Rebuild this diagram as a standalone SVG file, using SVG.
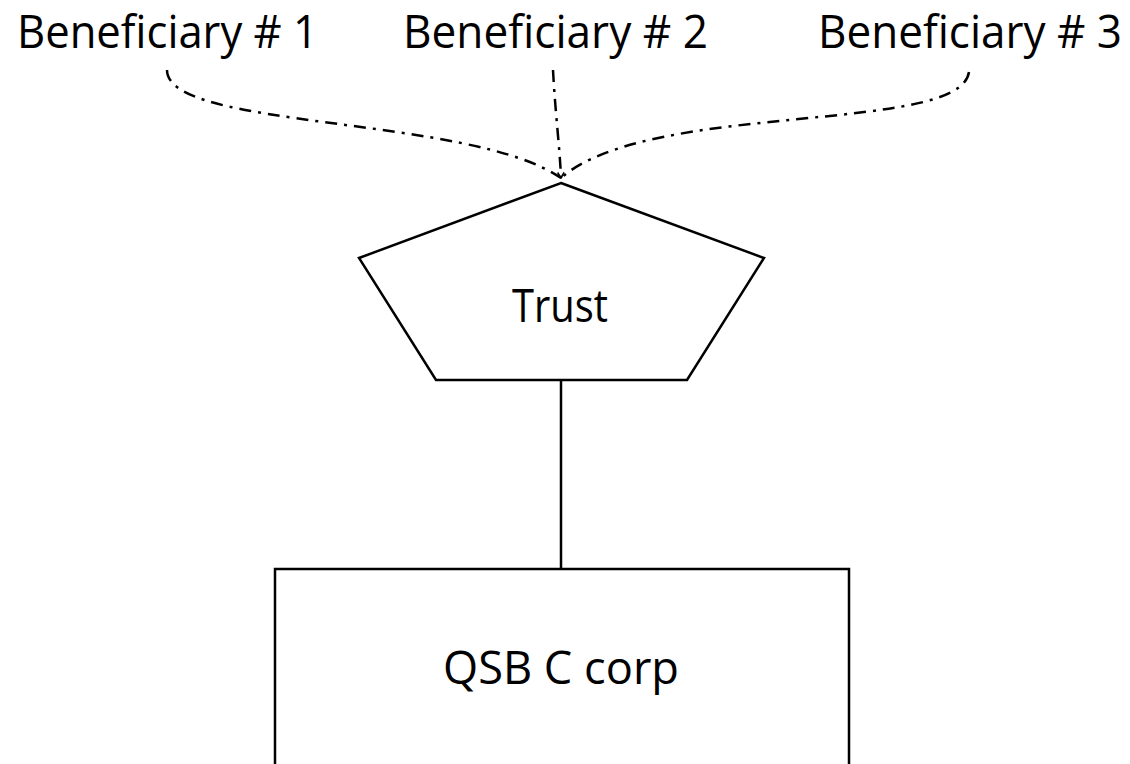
<svg xmlns="http://www.w3.org/2000/svg" width="1130" height="764" viewBox="0 0 1130 764">
  <style>
    .label { font-family: "Open Sans", "Noto Sans", "Liberation Sans", sans-serif; font-size: 45px; fill: #000; text-anchor: middle; }
    .shape { fill: #fff; stroke: #000; stroke-width: 2.5; }
    .link { fill: none; stroke: #000; stroke-width: 2.5; }
    .benefit { fill: none; stroke: #000; stroke-width: 2.5; stroke-dasharray: 12 7 3 7; }
  </style>
  <defs>
    <marker id="tip" viewBox="0 0 10 10" refX="9" refY="5" markerWidth="8" markerHeight="8" orient="auto" markerUnits="userSpaceOnUse">
      <path d="M2,1 L9,5 L2,9" fill="none" stroke="#000" stroke-width="2"/>
    </marker>
  </defs>
  <rect width="1130" height="764" fill="#fff"/>

  <!-- connectors -->
  <g id="connectors">
    <path class="benefit" d="M167,70 C167,130 470,115 561,178"/>
    <path class="benefit" d="M553,70 C555,110 560,150 561,178" marker-end="url(#tip)"/>
    <path class="benefit" d="M969,72 C960,135 650,100 561,178"/>
    <line class="link" x1="561" y1="380" x2="561" y2="569"/>
  </g>

  <!-- beneficiaries -->
  <g id="beneficiary-1"><text class="label" x="167.5" y="48" textLength="301" lengthAdjust="spacingAndGlyphs">Beneficiary # 1</text></g>
  <g id="beneficiary-2"><text class="label" x="555.5" y="48" textLength="305" lengthAdjust="spacingAndGlyphs">Beneficiary # 2</text></g>
  <g id="beneficiary-3"><text class="label" x="970" y="48" textLength="304" lengthAdjust="spacingAndGlyphs">Beneficiary # 3</text></g>

  <!-- trust -->
  <g id="trust">
    <polygon class="shape" points="561,183 764,258 687,380 436,380 359,258"/>
    <text class="label" x="560" y="322" textLength="96" lengthAdjust="spacingAndGlyphs">Trust</text>
  </g>

  <!-- corporation -->
  <g id="qsb-c-corp">
    <rect class="shape" x="275" y="569" width="574" height="210"/>
    <text class="label" x="561" y="684" textLength="236" lengthAdjust="spacingAndGlyphs">QSB C corp</text>
  </g>
</svg>
